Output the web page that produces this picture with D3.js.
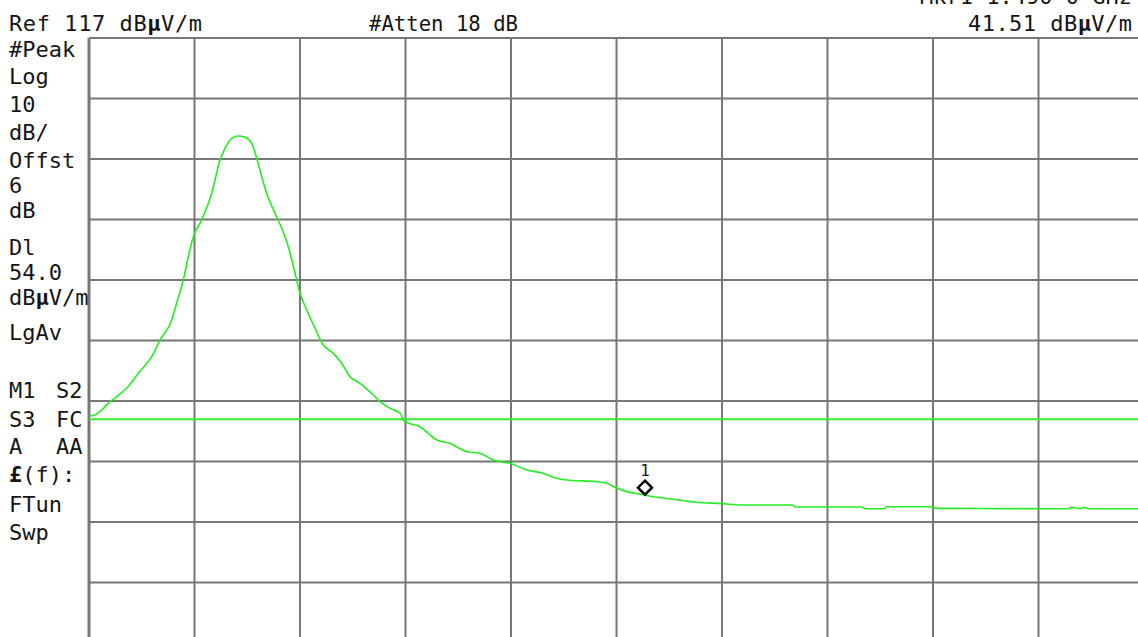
<!DOCTYPE html>
<html>
<head>
<meta charset="utf-8">
<script src="https://cdn.jsdelivr.net/npm/d3@7"></script>
<style>
  html, body { margin: 0; padding: 0; background: #fff; }
  svg text { font-family: "DejaVu Sans Mono", monospace; font-size: 22px; fill: #151515; }
</style>
</head>
<body>
<div id="chart"></div>
<script>
const width = 1138;
const height = 637;

// Screen settings: ref level, dB/div, display line, marker readout
const refLevel = 117;
const dbPerDiv = 10;
const numDivs = 10;
const displayLine = 54.0;
const markerDiv = 5.27;
const markerLevel = 41.51;

// Trace: x in divisions, level in dBμV/m
const traceDiv = [0, 0.057, 0.104, 0.152, 0.199, 0.263, 0.370, 0.467, 0.594, 0.673,
  0.784, 0.831, 0.894, 0.941, 0.989, 1.068, 1.163, 1.242, 1.289, 1.353,
  1.415, 1.479, 1.542, 1.590, 1.637, 1.684, 1.763, 1.827, 1.889, 1.953,
  2.000, 2.064, 2.142, 2.221, 2.316, 2.395, 2.474, 2.569, 2.695, 2.758,
  2.853, 2.948, 2.995, 3.137, 3.296, 3.422, 3.580, 3.706, 3.832, 3.991,
  4.149, 4.306, 4.433, 4.528, 4.812, 4.909, 4.990, 5.104, 5.234, 5.364,
  5.494, 5.625, 5.754, 5.998, 6.193, 6.665, 6.697, 7.315, 7.365, 7.543,
  7.559, 7.966, 8.031, 9.283, 9.316, 9.398, 9.431, 9.479, 10];
const traceLevel = [54.52, 54.69, 55.23, 56.06, 56.88, 57.74, 59.36, 61.58, 64.32, 67.08,
  70.39, 73.20, 77.00, 80.85, 84.16, 86.92, 91.33, 96.83, 98.77, 100.42,
  100.80, 100.59, 99.60, 97.12, 94.07, 91.33, 88.02, 85.55, 82.50, 78.11,
  74.80, 72.04, 69.02, 66.26, 64.88, 63.23, 61.02, 59.93, 57.99, 56.88,
  55.79, 54.97, 53.58, 52.75, 50.55, 50.01, 48.62, 48.36, 47.25, 46.70,
  45.60, 45.05, 44.22, 43.94, 43.66, 43.40, 42.70, 41.98, 41.58, 41.12,
  40.83, 40.55, 40.27, 40.04, 39.81, 39.81, 39.48, 39.48, 39.20, 39.20,
  39.53, 39.53, 39.25, 39.20, 39.41, 39.20, 39.41, 39.20, 39.20];

// Annotation text on the left of the graticule
const sideLabels = [
  ["#Peak", 57], ["Log", 84], ["10", 112], ["dB/", 140], ["Offst", 168],
  ["6", 193], ["dB", 218], ["Dl", 255], ["54.0", 280], ["LgAv", 340],
  ["M1", 398], ["S3", 427], ["A", 454], ["FTun", 512], ["Swp", 540]
];
const sideLabels2 = [["S2", 398], ["FC", 427], ["AA", 454]];

const x = d3.scaleLinear().domain([0, numDivs]).range([89, 1144]);
const y = d3.scaleLinear().domain([refLevel - dbPerDiv * numDivs, refLevel]).range([643, 38]);

const svg = d3.select("#chart").append("svg")
    .attr("width", width)
    .attr("height", height)
    .style("display", "block");

svg.append("rect").attr("width", width).attr("height", height).attr("fill", "#fff");

// Graticule
const g = svg.append("g").attr("class", "grid");
g.selectAll("line.v")
  .data(d3.range(0, numDivs + 1))
  .enter().append("line")
    .attr("x1", d => x(d)).attr("x2", d => x(d))
    .attr("y1", y(refLevel)).attr("y2", y(refLevel - dbPerDiv * numDivs))
    .attr("stroke", "#777")
    .attr("stroke-width", d => d === 0 ? 3 : 2);
g.selectAll("line.h")
  .data(d3.range(0, numDivs + 1))
  .enter().append("line")
    .attr("x1", x(0)).attr("x2", x(numDivs))
    .attr("y1", d => y(refLevel - d * dbPerDiv)).attr("y2", d => y(refLevel - d * dbPerDiv))
    .attr("stroke", "#777")
    .attr("stroke-width", 2);

// Display line
svg.append("line")
    .attr("x1", x(0)).attr("x2", x(numDivs))
    .attr("y1", y(displayLine)).attr("y2", y(displayLine))
    .attr("stroke", "#33ee33")
    .attr("stroke-width", 2);

// Trace
const line = d3.line()
    .x((d, i) => x(traceDiv[i]))
    .y(d => y(d))
    .curve(d3.curveMonotoneX);

svg.append("path")
    .datum(traceLevel)
    .attr("d", line)
    .attr("fill", "none")
    .attr("stroke", "#22ee22")
    .attr("stroke-width", 1.6);

// Marker 1
const mx = x(markerDiv), my = y(markerLevel) - 7;
svg.append("path")
    .attr("d", `M${mx},${my - 7}L${mx + 7},${my}L${mx},${my + 7}L${mx - 7},${my}Z`)
    .attr("fill", "none")
    .attr("stroke", "#000")
    .attr("stroke-width", 2.5);
svg.append("text")
    .attr("x", mx).attr("y", my - 12)
    .attr("text-anchor", "middle")
    .style("font-size", "16px")
    .text("1");

// Header texts
const ref = svg.append("text").attr("x", 9).attr("y", 31)
    .attr("textLength", 193).attr("lengthAdjust", "spacing");
ref.append("tspan").text("Ref " + refLevel + " dB");
ref.append("tspan").style("font-weight", "bold").text("μ");
ref.append("tspan").text("V/m");

svg.append("text").attr("x", 369).attr("y", 31)
    .attr("textLength", 149).attr("lengthAdjust", "spacingAndGlyphs")
    .text("#Atten 18 dB");

svg.append("text").attr("x", 1132).attr("y", 4)
    .attr("text-anchor", "end").text("Mkr1 1.490 0 GHz");

const mk = svg.append("text").attr("x", 968).attr("y", 31)
    .attr("textLength", 164).attr("lengthAdjust", "spacing");
mk.append("tspan").text(markerLevel.toFixed(2) + " dB");
mk.append("tspan").style("font-weight", "bold").text("μ");
mk.append("tspan").text("V/m");

// Left annotation column
svg.selectAll("text.side")
  .data(sideLabels)
  .enter().append("text")
    .attr("x", 9).attr("y", d => d[1])
    .text(d => d[0]);
svg.selectAll("text.side2")
  .data(sideLabels2)
  .enter().append("text")
    .attr("x", 56).attr("y", d => d[1])
    .text(d => d[0]);

const unit = svg.append("text").attr("x", 9).attr("y", 305);
unit.append("tspan").text("dB");
unit.append("tspan").style("font-weight", "bold").text("μ");
unit.append("tspan").text("V/m");

const fn = svg.append("text").attr("x", 9).attr("y", 482);
fn.append("tspan").style("font-weight", "bold").text("£");
fn.append("tspan").text("(f):");
</script>
</body>
</html>
